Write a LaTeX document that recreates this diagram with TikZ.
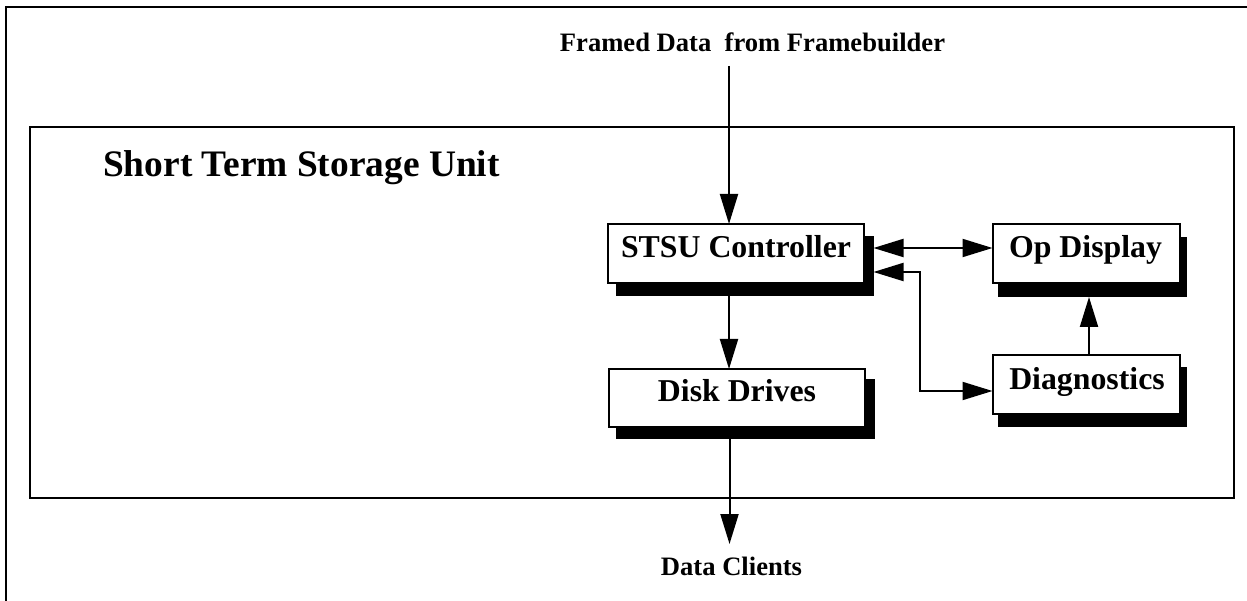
\documentclass[tikz,border=0pt]{standalone}
\usepackage{fontspec}
\setmainfont{Liberation Serif}
\usetikzlibrary{arrows.meta}
\tikzset{
 x=1pt,y=-1pt,
 frameline/.style={draw=black,line width=2pt},
 unitbox/.style={draw=black,fill=white,line width=2pt,anchor=north west,inner sep=0pt,outer sep=0pt},
 shadowbox/.style={fill=black,draw=none,anchor=north west,inner sep=0pt,outer sep=0pt},
 boxtext/.style={font=\bfseries\fontsize{31.8}{32}\selectfont,inner sep=0pt,anchor=base},
 link/.style={draw=black,line width=2pt,-{Triangle[length=30pt,width=18pt]}},
 dlink/.style={draw=black,line width=2pt,{Triangle[length=30pt,width=18pt]}-{Triangle[length=30pt,width=18pt]}},
 caption/.style={font=\bfseries\fontsize{26.6}{28}\selectfont,inner sep=0pt,anchor=base}
}
\begin{document}
\begin{tikzpicture}
\useasboundingbox (0,0) rectangle (1247,601);
\fill[white] (0,0) rectangle (1247,601);
\draw[frameline] (6,601) -- (6,7) -- (1247,7);
\node[frameline,fill=white,anchor=north west,minimum width=1204pt,minimum height=370pt,inner sep=0pt,outer sep=0pt] (unit) at (30,127.5) {};
\node[caption] (top) at (752.5,52) {Framed Data\ \ from Framebuilder};
\node[caption] (bot) at (731.5,575) {Data Clients};
\node[font=\bfseries\fontsize{37.4}{38}\selectfont,anchor=base west,inner sep=0pt] (title) at (103,176.5) {Short Term Storage Unit};
\node[shadowbox,minimum width=258pt,minimum height=60pt] (s1) at (616,236.5) {};
\node[shadowbox,minimum width=258.5pt,minimum height=60pt] (s2) at (616,379) {};
\node[shadowbox,minimum width=189pt,minimum height=60pt] (s3) at (998,237) {};
\node[shadowbox,minimum width=189pt,minimum height=60pt] (s4) at (998,367) {};
\node[unitbox,minimum width=256pt,minimum height=59pt] (stsu) at (608,224) {};
\node[unitbox,minimum width=256.5pt,minimum height=58pt] (disk) at (608.5,369) {};
\node[unitbox,minimum width=187.5pt,minimum height=59pt] (op) at (992.5,224) {};
\node[unitbox,minimum width=187.5pt,minimum height=59pt] (diag) at (992.5,355) {};
\node[boxtext] (tstsu) at (736,258) {STSU Controller};
\node[boxtext] (tdisk) at (737,401.5) {Disk Drives};
\node[boxtext] (top2) at (1085.5,258) {Op Display};
\node[boxtext] (tdiag) at (1087,389) {Diagnostics};
\coordinate (a0) at (729,66);
\coordinate (a1) at (729,224);
\coordinate (b0) at (729,296);
\coordinate (b1) at (729,369);
\coordinate (c0) at (729.5,439);
\coordinate (c1) at (729.5,544);
\draw[link] (a0) -- (a1);
\draw[link] (b0) -- (b1);
\draw[link] (c0) -- (c1);
\coordinate (d0) at (873.5,248);
\coordinate (d1) at (992.5,248);
\draw[dlink] (d0) -- (d1);
\coordinate (e0) at (873.5,272);
\coordinate (e1) at (920,272);
\coordinate (e2) at (920,391);
\coordinate (e3) at (992.5,391);
\draw[dlink] (e0) -- (e1) -- (e2) -- (e3);
\coordinate (f0) at (1089,355);
\coordinate (f1) at (1089,297);
\draw[link] (f0) -- (f1);
\end{tikzpicture}
\end{document}
